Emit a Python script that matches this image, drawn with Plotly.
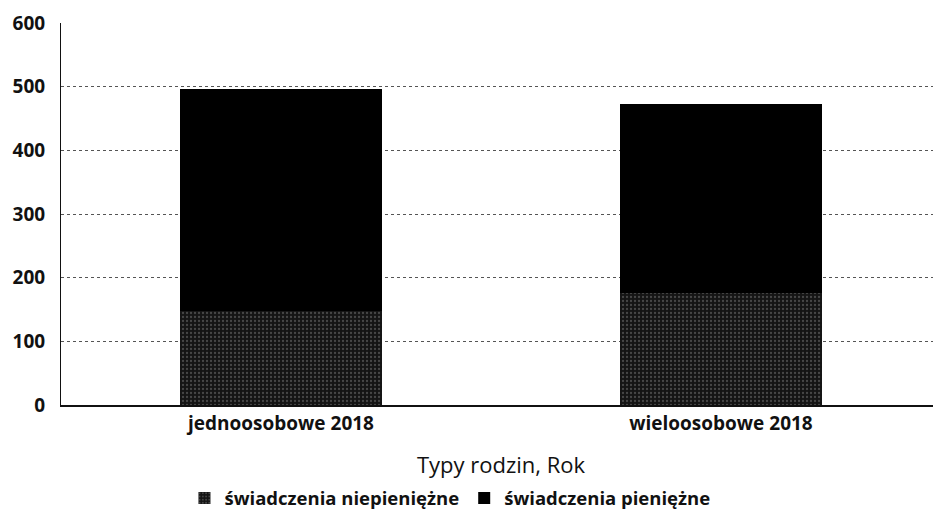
import plotly.graph_objects as go

categories = ["jednoosobowe 2018", "wieloosobowe 2018"]
niepieniezne = [147, 176]
pieniezne = [349, 297]
series_names = ["świadczenia niepieniężne", "świadczenia pieniężne"]
y_ticks = [0, 100, 200, 300, 400, 500, 600]

FONT = "Open Sans"

fig = go.Figure()
fig.add_trace(go.Bar(
    x=categories, y=niepieniezne, name=series_names[0],
    marker=dict(color="#141414", line=dict(width=0),
                pattern=dict(shape=".", fgcolor="#7a7a7a", size=4, solidity=0.25)),
))
fig.add_trace(go.Bar(
    x=categories, y=pieniezne, name=series_names[1],
    marker=dict(color="#000000", line=dict(width=0)),
))

fig.update_layout(
    barmode="stack",
    bargap=0.54,
    width=933, height=514,
    margin=dict(l=53, r=0, t=15, b=117),
    paper_bgcolor="white", plot_bgcolor="white",
    font=dict(family=FONT, color="#111111"),
    showlegend=True,
    legend=dict(orientation="h", x=0.442, xanchor="center", y=-0.245, yanchor="middle",
                font=dict(size=18.5, family=FONT, color="#111111", weight="bold"),
                traceorder="normal", itemwidth=30),
    xaxis=dict(
        automargin=False,
        showline=True, linecolor="#111111", linewidth=1.5,
        tickfont=dict(size=19, family=FONT, color="#111111", weight="bold"),
        ticks="", showgrid=False,
        title=dict(text="Typy rodzin, Rok", font=dict(size=22, family=FONT, color="#111111"),
                   standoff=23),
    ),
    yaxis=dict(
        automargin=False,
        range=[0, 600], tickvals=y_ticks,
        showline=True, linecolor="#111111", linewidth=1,
        showgrid=True, gridcolor="#555555", gridwidth=1, griddash="dot",
        tickfont=dict(size=19, family=FONT, color="#111111", weight="bold"),
        ticks="", ticklabelstandoff=11, zeroline=False,
    ),
)

fig.write_html("out.html")
